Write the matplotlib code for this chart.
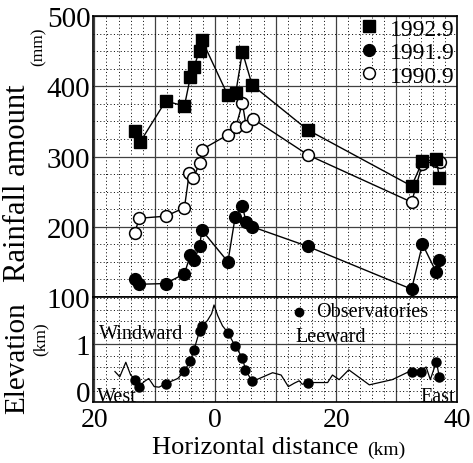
import matplotlib
matplotlib.use("Agg")
import matplotlib.pyplot as plt
import matplotlib.transforms as mtransforms
from matplotlib.lines import Line2D
import numpy as np

plt.rcParams['font.family'] = ['Liberation Serif', 'DejaVu Serif']

# rainfall at the observatories (km, mm)
x_1992 = [-13.2, -12.4, -8.2, -5.1, -4.1, -3.5, -2.6, -2.2, 2.1, 3.4, 4.5, 6.1, 15.3, 32.5, 34.3, 36.6, 37.1]
rain_1992 = [336, 321, 379, 372, 414, 428, 451, 466, 387, 391, 449, 402, 338, 258, 293, 296, 269]

x_1991 = [-13.2, -12.6, -8.2, -5.1, -4.1, -3.5, -2.6, -2.2, 2.1, 3.3, 4.5, 5.1, 6.1, 15.3, 32.5, 34.3, 36.6, 37.1]
rain_1991 = [125, 118, 119, 133, 160, 152, 172, 195, 150, 214, 229, 207, 200, 172, 111, 175, 135, 153]

x_1990 = [-13.3, -12.6, -8.2, -5.1, -4.3, -3.6, -2.6, -2.2, 2.1, 3.4, 4.5, 5.1, 6.2, 15.4, 32.5, 34.3, 36.6, 37.2]
rain_1990 = [191, 212, 215, 227, 276, 269, 291, 310, 331, 342, 376, 344, 354, 302, 235, 290, 293, 292]

# terrain profile (km, km)
ter_x = [-16.6, -15.8, -14.8, -14.0, -13.2, -12.6, -11.7, -11.0, -10.1, -9.3, -8.2, -6.2, -5.1,
         -4.1, -3.5, -2.6, -2.2, -1.3, -0.6, -0.2, 0.4, 1.2, 2.1, 3.3, 4.5, 5.0, 6.1, 7.3, 9.5,
         10.9, 12.1, 13.1, 13.9, 14.4, 15.3, 16.1, 18.6, 19.4, 20.5, 22.1, 25.5, 29.3, 32.1,
         32.5, 34.1, 34.9, 35.6, 36.6, 37.1]
ter_z = [0.53, 0.44, 0.69, 0.47, 0.39, 0.27, 0.36, 0.41, 0.27, 0.26, 0.32, 0.41, 0.54,
         0.72, 0.91, 1.23, 1.32, 1.41, 1.53, 1.68, 1.50, 1.32, 1.20, 0.97, 0.77, 0.56, 0.36, 0.41, 0.51,
         0.47, 0.27, 0.33, 0.37, 0.31, 0.34, 0.34, 0.34, 0.47, 0.39, 0.56, 0.30, 0.39, 0.53,
         0.53, 0.53, 0.61, 0.39, 0.70, 0.43]

obs_x = [-13.2, -12.6, -8.2, -5.1, -4.1, -3.5, -2.6, -2.2, 2.1, 3.3, 4.5, 5.0, 6.1, 15.3, 32.5, 34.1, 36.6, 37.1]
obs_z = [0.39, 0.27, 0.32, 0.54, 0.72, 0.91, 1.23, 1.32, 1.20, 0.97, 0.77, 0.56, 0.36, 0.34, 0.53, 0.53, 0.70, 0.43]

x_ticks = [-20, -10, 0, 10, 20, 30, 40]
x_labels = ['20', '', '0', '', '20', '', '40']


def style_grid(ax):
    ax.grid(which='major', color='0.25', lw=0.9, ls='-')
    ax.grid(which='minor', color='black', lw=0.7, ls=(0, (1, 2.5)))
    ax.set_axisbelow(True)
    ax.tick_params(which='both', length=0)
    for s in ax.spines.values():
        s.set_linewidth(1.2)


fig = plt.figure(figsize=(4.73, 4.64), dpi=100)
ax1 = fig.add_axes([0.197, 0.358, 0.769, 0.605])
ax2 = fig.add_axes([0.197, 0.131, 0.769, 0.227])

ax1.plot(x_1990, rain_1990, '-o', color='black', mfc='white', mec='black', ms=8.5, mew=1.1, lw=1.0)
ax1.plot(x_1991, rain_1991, '-o', color='black', ms=8.5, lw=1.0)
ax1.plot(x_1992, rain_1992, '-s', color='black', ms=8, lw=1.0)

ax1.set_xlim(-20.2, 40)
ax1.set_ylim(100, 500)
ax1.set_xticks(x_ticks)
ax1.set_xticks(np.arange(-20, 41, 2), minor=True)
ax1.set_xticklabels([])
ax1.set_yticks([100, 200, 300, 400, 500])
ax1.set_yticks(np.arange(100, 501, 25), minor=True)
ax1.tick_params(axis='y', labelsize=21, pad=2)
style_grid(ax1)

handles = [Line2D([], [], marker='s', ls='none', color='black', ms=8),
           Line2D([], [], marker='o', ls='none', color='black', ms=8.5),
           Line2D([], [], marker='o', ls='none', mfc='white', mec='black', ms=8.5, mew=1.1)]
ax1.legend(handles, ['1992.9', '1991.9', '1990.9'], loc='upper right', bbox_to_anchor=(1.025, 1.035),
           frameon=False, fontsize=17, handlelength=0.8, handletextpad=0.45, labelspacing=0.08,
           borderaxespad=0.1)

ax2.plot(ter_x, ter_z, '-', color='black', lw=0.9)
ax2.plot(obs_x, obs_z, 'o', color='black', ms=6.5)
ax2.set_xlim(-20.2, 40)
ax2.set_ylim(0, 1.82)
ax2.set_xticks(x_ticks)
ax2.set_xticks(np.arange(-20, 41, 2), minor=True)
ax2.set_xticklabels(x_labels)
ax2.set_yticks([0, 1])
ax2.set_yticks(np.arange(0, 1.81, 0.2), minor=True)
ax2.tick_params(axis='y', labelsize=21, pad=2)
ax2.tick_params(axis='x', labelsize=20, pad=3.5)
style_grid(ax2)

# the "0" sits a little above the corner, as in the original
lift = mtransforms.ScaledTranslation(0, 8 / 72, fig.dpi_scale_trans)
zero_lbl = ax2.get_yticklabels()[0]
zero_lbl.set_transform(zero_lbl.get_transform() + lift)

ax2.text(-19.2, 1.19, 'Windward', fontsize=14.5, va='center', ha='left')
ax2.text(13.2, 1.13, 'Leeward', fontsize=14.5, va='center', ha='left')
ax2.plot([13.9], [1.56], 'o', color='black', ms=6)
ax2.text(16.7, 1.56, 'Observatories', fontsize=14.5, va='center', ha='left')
ax2.text(-19.6, -0.06, 'West', fontsize=14.5, va='bottom', ha='left')
ax2.text(39.6, -0.06, 'East', fontsize=14.5, va='bottom', ha='right')

fig.text(0.037, 0.605, 'Rainfall amount', rotation=90, fontsize=22, ha='center', va='center')
fig.text(0.082, 0.9, '(mm)', rotation=90, fontsize=12.5, ha='center', va='center')
fig.text(0.037, 0.228, 'Elevation', rotation=90, fontsize=21, ha='center', va='center')
fig.text(0.086, 0.268, '(km)', rotation=90, fontsize=12.5, ha='center', va='center')
fig.text(0.322, 0.035, 'Horizontal distance', fontsize=19, ha='left', va='center')
fig.text(0.776, 0.03, '(km)', fontsize=14, ha='left', va='center')

fig.savefig('out.png', dpi=100)
